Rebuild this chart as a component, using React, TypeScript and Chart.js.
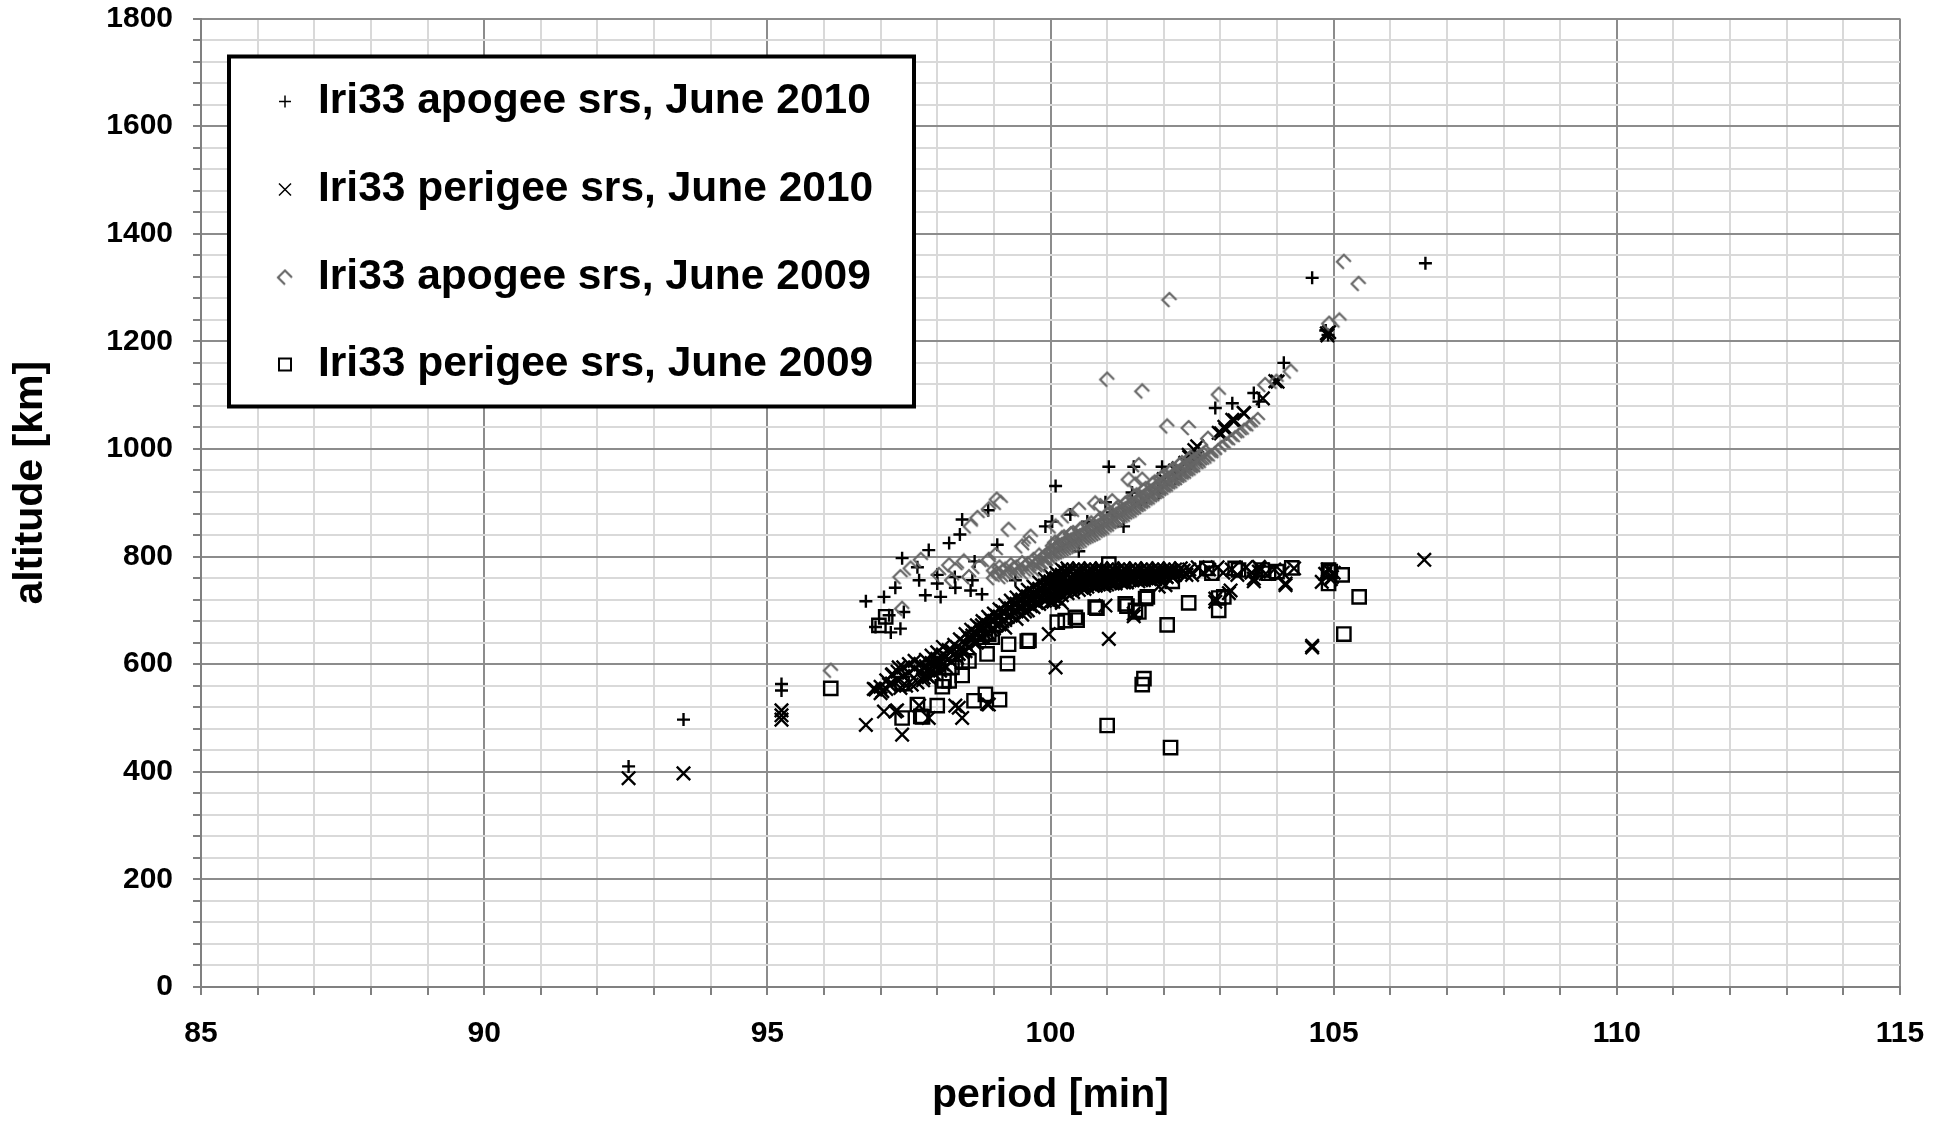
import React, { useEffect, useRef } from 'react';
import { Chart, registerables } from 'chart.js';

Chart.register(...registerables);

const FONT = "'Liberation Sans', Arial, Helvetica, sans-serif";

const seriesNames = [
  'Iri33 apogee srs, June 2010',
  'Iri33 perigee srs, June 2010',
  'Iri33 apogee srs, June 2009',
  'Iri33 perigee srs, June 2009',
];

const periodRange = [85, 115];
const periodSteps = [1, 5]; // minor, major
const altitudeRange = [0, 1800];
const altitudeSteps = [40, 200]; // minor, major
const xTitle = 'period [min]';
const yTitle = 'altitude [km]';

// [period, altitude]
const apogee2010: [number, number][] = [
  [92.55, 410], [93.52, 497], [95.25, 563], [95.25, 551],
  [96.74, 717], [96.91, 669], [97.06, 725], [97.15, 691], [97.18, 659], [97.26, 742], [97.35, 666],
  [97.38, 797], [97.41, 697], [97.65, 780], [97.68, 756], [97.79, 728], [97.85, 812], [98.0, 766],
  [98.0, 750], [98.06, 725], [98.21, 825], [98.31, 762], [98.32, 742], [98.4, 841], [98.44, 869],
  [98.59, 737], [98.62, 756], [98.66, 791], [98.79, 730], [98.9, 886], [99.06, 822], [99.38, 756],
  [99.91, 856], [100.03, 865], [100.09, 931], [100.35, 878], [100.5, 810], [100.65, 865], [100.97, 901],
  [101.03, 967], [101.09, 882], [101.29, 856], [101.44, 919], [101.47, 967], [101.6, 900], [101.91, 918],
  [101.97, 967], [102.2, 945], [102.6, 985], [102.91, 1076], [103.21, 1085], [103.59, 1104],
  [103.68, 1088], [104.12, 1160], [104.62, 1318], [104.86, 1220], [104.9, 1212], [106.62, 1345],
];

const perigee2010: [number, number][] = [
  [92.55, 388], [93.52, 397], [95.25, 514], [95.25, 505], [95.25, 497],
  [96.74, 487], [96.88, 554], [96.91, 553], [97.03, 550], [97.06, 512], [97.15, 562], [97.21, 581],
  [97.26, 512], [97.29, 514], [97.32, 594], [97.38, 469], [97.68, 523], [97.76, 575], [97.82, 578],
  [97.85, 500], [97.85, 591], [98.03, 600], [98.03, 606], [98.09, 600], [98.26, 625], [98.32, 523],
  [98.38, 519], [98.38, 619], [98.44, 500], [98.5, 637], [98.62, 653], [98.62, 646], [98.79, 672],
  [98.88, 526], [98.91, 525], [99.97, 656], [100.09, 594], [100.97, 709], [101.03, 647], [101.47, 694],
  [101.47, 689], [101.91, 744], [102.03, 747], [102.91, 722], [102.91, 716], [103.15, 732], [103.18, 737],
  [103.59, 759], [103.59, 754], [103.68, 781], [103.68, 772], [104.15, 750], [104.15, 747], [104.62, 634],
  [104.62, 631], [104.79, 753], [104.97, 762], [106.6, 794],
  [102.0, 944], [102.2, 960], [102.26, 964], [102.38, 974], [102.44, 989], [102.45, 985], [102.54, 998],
  [102.56, 983], [102.59, 1005], [102.97, 1030], [103.01, 1029], [103.07, 1041], [103.09, 1036],
  [103.21, 1054], [103.25, 1053], [103.41, 1067], [103.42, 1066], [103.75, 1094], [103.97, 1126],
  [104.01, 1125], [104.88, 1215], [104.89, 1211], [104.92, 1217],
  [97.0, 558], [97.0, 546], [97.1, 570], [97.1, 554], [97.2, 564], [97.2, 580], [97.3, 586], [97.3, 570],
  [97.4, 594], [97.4, 578], [97.5, 584], [97.5, 600], [97.6, 592], [97.6, 606], [97.7, 600], [97.7, 586],
  [97.8, 608], [97.8, 596], [97.9, 602], [97.9, 616], [98.0, 610], [98.0, 622], [98.0, 598], [98.1, 618],
  [98.1, 632], [98.2, 626], [98.2, 610], [98.3, 636], [98.3, 618], [98.4, 628], [98.4, 646], [98.5, 638],
  [98.5, 656], [98.5, 624], [98.6, 648], [98.6, 664], [98.7, 656], [98.7, 672], [98.7, 640], [98.8, 664],
  [98.8, 680], [98.8, 650], [98.9, 672], [98.9, 688], [98.9, 658], [99.0, 680], [99.0, 694], [99.0, 666],
  [99.1, 688], [99.1, 702], [99.1, 674], [99.2, 696], [99.2, 710], [99.2, 682], [99.2, 668], [99.3, 704],
  [99.3, 718], [99.3, 690], [99.4, 712], [99.4, 724], [99.4, 698], [99.4, 684], [99.5, 720], [99.5, 732],
  [99.5, 706], [99.5, 692], [99.6, 726], [99.6, 738], [99.6, 714], [99.6, 700], [99.7, 732], [99.7, 744],
  [99.7, 720], [99.7, 706], [99.8, 740], [99.8, 752], [99.8, 726], [99.8, 712], [99.9, 746], [99.9, 758],
  [99.9, 734], [99.9, 718], [100.0, 754], [100.0, 764], [100.0, 742], [100.0, 728], [100.0, 716],
  [100.1, 760], [100.1, 770], [100.1, 748], [100.1, 736], [100.1, 722], [100.2, 766], [100.2, 776],
  [100.2, 754], [100.2, 742], [100.2, 728], [100.2, 714], [100.3, 778], [100.3, 768], [100.3, 756],
  [100.3, 744], [100.3, 732], [100.4, 776], [100.4, 766], [100.4, 754], [100.4, 742], [100.4, 734],
  [100.5, 778], [100.5, 768], [100.5, 758], [100.5, 748], [100.5, 738], [100.6, 776], [100.6, 766],
  [100.6, 756], [100.6, 746], [100.6, 740], [100.7, 778], [100.7, 768], [100.7, 758], [100.7, 748],
  [100.8, 776], [100.8, 766], [100.8, 756], [100.8, 746], [100.9, 778], [100.9, 768], [100.9, 758],
  [100.9, 750], [101.0, 776], [101.0, 766], [101.0, 756], [101.0, 748], [101.1, 778], [101.1, 768],
  [101.1, 758], [101.1, 750], [101.2, 776], [101.2, 766], [101.2, 756], [101.3, 778], [101.3, 768],
  [101.3, 758], [101.3, 752], [101.4, 776], [101.4, 766], [101.4, 756], [101.5, 778], [101.5, 768],
  [101.5, 758], [101.6, 776], [101.6, 766], [101.6, 756], [101.7, 778], [101.7, 768], [101.7, 760],
  [101.8, 776], [101.8, 766], [101.9, 778], [101.9, 768], [101.9, 760], [102.0, 776], [102.0, 766],
  [102.1, 778], [102.1, 768], [102.2, 776], [102.2, 766], [102.3, 778], [102.3, 770],
  [100.25, 772], [100.25, 760], [100.25, 748], [100.25, 736], [100.35, 772], [100.35, 760], [100.35, 748],
  [100.35, 738], [100.45, 772], [100.45, 760], [100.45, 748], [100.55, 772], [100.55, 762], [100.55, 750],
  [100.55, 742], [100.65, 772], [100.65, 762], [100.65, 750], [100.75, 772], [100.75, 762], [100.75, 752],
  [100.85, 772], [100.85, 762], [100.85, 752], [100.95, 772], [100.95, 762], [100.95, 752], [101.05, 772],
  [101.05, 762], [101.05, 752], [101.15, 772], [101.15, 762], [101.15, 754], [101.25, 772], [101.25, 762],
  [101.25, 754], [101.35, 772], [101.35, 762], [101.45, 772], [101.45, 762], [101.45, 756], [101.55, 772],
  [101.55, 762], [101.65, 772], [101.65, 762], [101.75, 772], [101.75, 764], [101.85, 772], [101.85, 762],
  [101.95, 772], [101.95, 764], [102.05, 772], [102.05, 762], [102.15, 772], [102.15, 764], [102.25, 772],
  [102.35, 774], [102.4, 766],
  [99.55, 712], [99.65, 722], [99.75, 728], [99.85, 738], [99.95, 748], [100.05, 758], [100.15, 764],
  [99.55, 698], [99.65, 708], [99.75, 714], [99.85, 724], [99.95, 734], [100.05, 744], [100.15, 750],
  [100.05, 730], [100.15, 736], [100.05, 716], [100.15, 720], [99.45, 704], [99.35, 696], [99.25, 688],
  [99.15, 680], [99.05, 672], [98.95, 664], [98.85, 656], [98.75, 648], [98.65, 640], [98.55, 632],
  [98.45, 622], [98.35, 612], [98.25, 604], [98.15, 596], [98.05, 588], [97.95, 582], [97.85, 576],
  [97.75, 570], [97.65, 566], [97.55, 562], [97.45, 560], [97.35, 556], [99.45, 718], [99.35, 712],
  [99.25, 704], [99.15, 698], [99.05, 690], [98.95, 682], [98.85, 676], [98.75, 668], [98.65, 660],
  [98.55, 650], [98.45, 642], [98.35, 632], [98.25, 624], [98.15, 614], [98.05, 606], [97.95, 598],
  [97.85, 590], [97.75, 594],
  [99.95, 722], [100.05, 726], [100.15, 732], [100.25, 740], [100.35, 742], [100.45, 744], [100.55, 746],
  [100.65, 744], [100.75, 746], [100.85, 748], [100.95, 746], [101.05, 750], [101.15, 750], [101.25, 752],
  [101.35, 752], [101.55, 754], [101.65, 756], [101.75, 758], [101.85, 758], [101.95, 760], [102.05, 762],
  [102.15, 762], [100.12, 742], [100.22, 746], [100.32, 750], [100.42, 752], [100.52, 754], [100.62, 760],
  [100.72, 762], [100.82, 760], [100.92, 764], [101.02, 760], [101.12, 764], [101.22, 760], [101.32, 764],
  [101.42, 760], [101.52, 764], [101.62, 760], [101.72, 764], [101.82, 760], [101.92, 764], [102.02, 770],
  [102.12, 770], [102.22, 770], [100.32, 774], [100.52, 774], [100.72, 774], [100.92, 774], [101.12, 774],
  [101.32, 774], [101.52, 774], [101.72, 774], [101.92, 774], [102.12, 774],
  [102.45, 776], [102.5, 766], [102.6, 780], [102.7, 770], [102.8, 776], [102.95, 780], [103.05, 770],
  [103.2, 776], [103.3, 766], [103.45, 780], [103.55, 770], [103.7, 778], [103.8, 768], [103.95, 776],
  [104.1, 770], [104.3, 778], [104.85, 768], [104.9, 776], [104.95, 758], [105.0, 770],
];

const apogee2009: [number, number][] = [
  [96.12, 588], [97.35, 762], [97.38, 703], [97.53, 778], [97.71, 794], [98.03, 766], [98.21, 784],
  [98.26, 756], [98.32, 775], [98.47, 791], [98.56, 762], [98.74, 781], [98.59, 856], [98.71, 872],
  [98.91, 888], [99.05, 906], [99.12, 900], [98.91, 794], [99.03, 803], [99.26, 850], [99.5, 819],
  [99.62, 825], [99.65, 837], [100.09, 856], [100.32, 875], [100.5, 887], [100.79, 899], [100.88, 894],
  [101.09, 903], [101.0, 1129], [101.38, 943], [101.5, 934], [101.56, 970], [101.62, 943],
  [101.62, 1107], [102.06, 1042], [102.1, 1277], [102.44, 1039], [102.78, 1019], [102.97, 1101],
  [103.79, 1119], [103.99, 1125], [104.24, 1144], [104.92, 1233], [105.1, 1239], [105.18, 1348],
  [105.44, 1307],
  [99.0, 760], [99.0, 774], [99.1, 766], [99.1, 780], [99.2, 762], [99.2, 776], [99.3, 770], [99.3, 784],
  [99.4, 766], [99.4, 780], [99.5, 774], [99.5, 788], [99.6, 770], [99.6, 786], [99.7, 778], [99.7, 794],
  [99.8, 776], [99.8, 790], [99.8, 802], [99.9, 784], [99.9, 800], [100.0, 796], [100.0, 810],
  [100.08, 800], [100.08, 814], [100.08, 826], [100.16, 806], [100.16, 820], [100.24, 810], [100.24, 824],
  [100.24, 836], [100.32, 814], [100.32, 828], [100.4, 818], [100.4, 832], [100.4, 844], [100.48, 822],
  [100.48, 836], [100.56, 826], [100.56, 840], [100.56, 852], [100.64, 830], [100.64, 844], [100.72, 836],
  [100.72, 850], [100.72, 862], [100.8, 840], [100.8, 854], [100.88, 844], [100.88, 858], [100.88, 870],
  [100.96, 850], [100.96, 864], [101.04, 854], [101.04, 868], [101.04, 880], [101.12, 860], [101.12, 874],
  [101.2, 866], [101.2, 880], [101.2, 892], [101.28, 870], [101.28, 886], [101.36, 876], [101.36, 890],
  [101.36, 902], [101.44, 882], [101.44, 896], [101.52, 886], [101.52, 902], [101.52, 914], [101.6, 892],
  [101.6, 908], [101.68, 898], [101.68, 914], [101.68, 926], [101.76, 904], [101.76, 920], [101.84, 910],
  [101.84, 926], [101.84, 938], [101.92, 916], [101.92, 932], [102.0, 922], [102.0, 938], [102.0, 950],
  [102.08, 928], [102.08, 944], [102.16, 934], [102.16, 950], [102.16, 962], [102.24, 940], [102.24, 956],
  [102.32, 946], [102.32, 962], [102.32, 974], [102.4, 952], [102.4, 968], [102.48, 958], [102.48, 974],
  [102.48, 984], [102.56, 964], [102.56, 980], [102.64, 970], [102.64, 986], [102.74, 978], [102.74, 994],
  [102.84, 986], [102.96, 996], [103.1, 1008], [103.26, 1020], [103.42, 1034], [103.58, 1046],
  [99.05, 768], [99.15, 772], [99.25, 766], [99.35, 778], [99.45, 772], [99.55, 780], [99.65, 776],
  [99.75, 786], [99.85, 784], [99.85, 796], [99.95, 790], [99.95, 804], [100.04, 796], [100.04, 808],
  [100.04, 820], [100.12, 804], [100.12, 818], [100.2, 808], [100.2, 822], [100.2, 834], [100.28, 812],
  [100.28, 826], [100.36, 816], [100.36, 830], [100.36, 842], [100.44, 820], [100.44, 834], [100.52, 824],
  [100.52, 838], [100.52, 850], [100.6, 828], [100.6, 842], [100.68, 834], [100.68, 848], [100.68, 858],
  [100.76, 838], [100.76, 852], [100.84, 842], [100.84, 856], [100.84, 866], [100.92, 848], [100.92, 862],
  [101.0, 852], [101.0, 866], [101.0, 878], [101.08, 858], [101.08, 872], [101.16, 864], [101.16, 878],
  [101.16, 888], [101.24, 868], [101.24, 882], [101.32, 874], [101.32, 888], [101.32, 898], [101.4, 878],
  [101.4, 894], [101.48, 884], [101.48, 898], [101.48, 910], [101.56, 890], [101.56, 904], [101.64, 896],
  [101.64, 910], [101.64, 922], [101.72, 902], [101.72, 916], [101.8, 908], [101.8, 922], [101.8, 934],
  [101.88, 914], [101.88, 928], [101.96, 920], [101.96, 934], [101.96, 946], [102.04, 926], [102.04, 940],
  [102.12, 932], [102.12, 946], [102.12, 958], [102.2, 938], [102.2, 952], [102.28, 944], [102.28, 958],
  [102.28, 970], [102.36, 950], [102.36, 964], [102.44, 956], [102.44, 970], [102.44, 980], [102.52, 962],
  [102.52, 976], [102.6, 968], [102.6, 982], [102.7, 976], [102.7, 990], [102.8, 984], [102.9, 990],
  [103.02, 1002], [103.18, 1014], [103.34, 1026], [103.5, 1040], [103.66, 1054],
];

const perigee2009: [number, number][] = [
  [96.12, 555], [96.97, 672], [97.09, 688], [97.38, 500], [97.38, 564], [97.65, 525], [97.71, 503],
  [97.74, 502], [98.0, 523], [98.09, 558], [98.12, 569], [98.21, 569], [98.26, 594], [98.44, 579],
  [98.44, 606], [98.56, 606], [98.65, 532], [98.79, 650], [98.85, 544], [98.85, 656], [98.88, 619],
  [98.91, 656], [98.97, 650], [99.1, 534], [99.24, 601], [99.26, 637], [99.59, 643], [99.62, 644],
  [100.12, 678], [100.26, 681], [100.44, 687], [100.47, 682], [100.79, 706], [100.82, 704], [101.0, 486],
  [101.03, 786], [101.32, 712], [101.35, 708], [101.5, 700], [101.56, 697], [101.62, 562], [101.65, 573],
  [101.68, 722], [101.71, 725], [102.06, 673], [102.12, 445], [102.15, 754], [102.44, 714], [102.76, 778],
  [102.85, 769], [102.97, 700], [102.97, 723], [103.06, 725], [103.26, 778], [103.32, 775], [103.74, 775],
  [103.85, 769], [104.0, 772], [104.26, 779], [104.91, 750], [104.91, 775], [104.94, 772], [105.15, 766],
  [105.18, 656], [105.45, 725],
];

const GRAY_MARK = '#666666';

function makeChevron(): HTMLCanvasElement {
  const c = document.createElement('canvas');
  c.width = 18;
  c.height = 18;
  const g = c.getContext('2d')!;
  g.strokeStyle = GRAY_MARK;
  g.lineWidth = 2.2;
  g.beginPath();
  g.moveTo(9, 16);
  g.lineTo(2, 9);
  g.lineTo(9, 2);
  g.lineTo(16, 9);
  g.stroke();
  return c;
}

const toXY = (arr: [number, number][]) => arr.map(([x, y]) => ({ x, y }));

export default function App() {
  const ref = useRef<HTMLCanvasElement | null>(null);

  useEffect(() => {
    if (!ref.current) return;
    const chevron = makeChevron();

    const overlayPlugin = {
      id: 'boxLegend',
      afterDatasetsDraw(chart: any) {
        const ctx = chart.ctx as CanvasRenderingContext2D;
        const area = chart.chartArea;
        const left = area.left + 28;
        const top = area.top + 38;
        const w = 685;
        const h = 350;
        ctx.save();
        ctx.fillStyle = '#ffffff';
        ctx.fillRect(left, top, w, h);
        ctx.strokeStyle = '#000000';
        ctx.lineWidth = 4;
        ctx.strokeRect(left, top, w, h);
        const mx = left + 56;
        const tx = left + 89;
        const rowY = [top + 45, top + 133, top + 221, top + 308];
        ctx.font = `bold 42.5px ${FONT}`;
        ctx.textBaseline = 'middle';
        ctx.textAlign = 'left';
        seriesNames.forEach((name, i) => {
          const y = rowY[i];
          ctx.strokeStyle = '#000';
          ctx.lineWidth = 1.5;
          if (i === 0) {
            ctx.beginPath();
            ctx.moveTo(mx - 6, y); ctx.lineTo(mx + 6, y);
            ctx.moveTo(mx, y - 6); ctx.lineTo(mx, y + 6);
            ctx.stroke();
          } else if (i === 1) {
            ctx.beginPath();
            ctx.moveTo(mx - 6, y - 6); ctx.lineTo(mx + 6, y + 6);
            ctx.moveTo(mx + 6, y - 6); ctx.lineTo(mx - 6, y + 6);
            ctx.stroke();
          } else if (i === 2) {
            ctx.drawImage(chevron, mx - 9, y - 9);
          } else {
            ctx.lineWidth = 2;
            ctx.strokeRect(mx - 6, y - 6, 12, 12);
          }
          ctx.fillStyle = '#000';
          ctx.fillText(name, tx, y);
        });
        ctx.restore();
      },
      afterDraw(chart: any) {
        const ctx = chart.ctx as CanvasRenderingContext2D;
        const area = chart.chartArea;
        ctx.save();
        ctx.translate(31, (area.top + area.bottom) / 2 - 20);
        ctx.rotate(-Math.PI / 2);
        ctx.font = `bold 41px ${FONT}`;
        ctx.fillStyle = '#000';
        ctx.textAlign = 'center';
        ctx.textBaseline = 'middle';
        ctx.fillText(yTitle, 0, 0);
        ctx.restore();
      },
    };

    const gridColor = (major: number) => (c: any) =>
      c.tick && Math.abs(c.tick.value % major) < 1e-6 ? '#8c8c8c' : '#d9d9d9';

    const chart = new Chart(ref.current, {
      type: 'scatter',
      data: {
        datasets: [
          {
            label: seriesNames[0],
            data: toXY(apogee2010),
            pointStyle: 'cross',
            pointRadius: 6.5,
            pointBorderColor: '#000',
            pointBackgroundColor: '#000',
            pointBorderWidth: 2.4,
            order: 4,
          },
          {
            label: seriesNames[1],
            data: toXY(perigee2010),
            pointStyle: 'crossRot',
            pointRadius: 9.5,
            pointBorderColor: '#000',
            pointBackgroundColor: '#000',
            pointBorderWidth: 2.4,
            order: 3,
          },
          {
            label: seriesNames[2],
            data: toXY(apogee2009),
            pointStyle: chevron as any,
            pointRadius: 7,
            pointBorderColor: GRAY_MARK,
            pointBackgroundColor: GRAY_MARK,
            order: 2,
          },
          {
            label: seriesNames[3],
            data: toXY(perigee2009),
            pointStyle: 'rect',
            pointRadius: 9.4,
            pointBorderColor: '#000',
            pointBackgroundColor: 'rgba(0,0,0,0)',
            pointBorderWidth: 2.4,
            order: 1,
          },
        ],
      },
      options: {
        animation: false,
        responsive: false,
        devicePixelRatio: 1,
        events: [],
        layout: { padding: { top: 18.5, right: 35, left: 0, bottom: 0 } },
        plugins: {
          legend: { display: false },
          tooltip: { enabled: false },
        },
        scales: {
          x: {
            type: 'linear',
            min: periodRange[0],
            max: periodRange[1],
            afterFit: (s: any) => {
              s.height = 134;
              s.paddingLeft = 0;
              s.paddingRight = 0;
            },
            ticks: {
              stepSize: periodSteps[0],
              maxTicksLimit: 1000,
              autoSkip: false,
              maxRotation: 0,
              padding: 21,
              color: '#000',
              font: { family: FONT, size: 30, weight: 'bold' },
              callback: (v: any) => (Math.abs(Number(v) % periodSteps[1]) < 1e-6 ? String(v) : ''),
            },
            grid: {
              color: gridColor(periodSteps[1]),
              lineWidth: 2,
              tickLength: 8,
              tickColor: '#808080',
              tickWidth: 2,
            },
            border: { display: true, color: '#808080', width: 2 },
            title: {
              display: true,
              text: xTitle,
              color: '#000',
              font: { family: FONT, size: 41, weight: 'bold' },
              padding: { top: 0, bottom: 1 },
            },
          },
          y: {
            type: 'linear',
            min: altitudeRange[0],
            max: altitudeRange[1],
            afterFit: (s: any) => {
              s.width = 201;
              s.paddingTop = 0;
              s.paddingBottom = 0;
            },
            ticks: {
              stepSize: altitudeSteps[0],
              maxTicksLimit: 1000,
              autoSkip: false,
              padding: 20,
              color: '#000',
              font: { family: FONT, size: 30, weight: 'bold' },
              callback: (v: any) => (Math.abs(Number(v) % altitudeSteps[1]) < 1e-6 ? String(v) : ''),
            },
            grid: {
              color: gridColor(altitudeSteps[1]),
              lineWidth: 2,
              tickLength: 8,
              tickColor: '#808080',
              tickWidth: 2,
            },
            border: { display: true, color: '#808080', width: 2 },
            title: { display: false },
          },
        },
      },
      plugins: [overlayPlugin],
    } as any);

    return () => chart.destroy();
  }, []);

  return (
    <div style={{ position: 'absolute', left: 0, top: 0, width: 1935, height: 1121, background: '#fff' }}>
      <canvas ref={ref} width={1935} height={1121} style={{ display: 'block', width: 1935, height: 1121 }} />
    </div>
  );
}
